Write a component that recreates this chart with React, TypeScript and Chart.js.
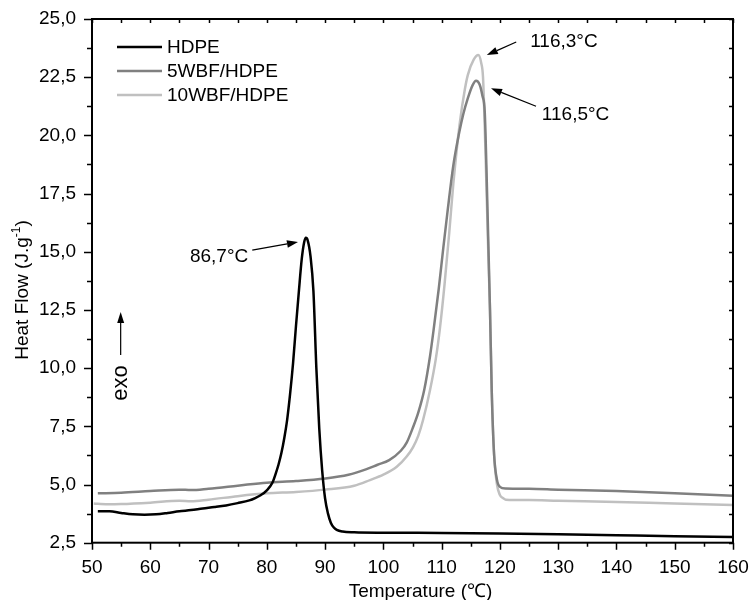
import React, { useEffect, useRef } from 'react';
import { Chart, registerables } from 'chart.js';

Chart.register(...registerables);

// ---------- data ----------
const hdpeT = [51, 53, 55, 57, 59, 61, 63, 65, 67, 69, 71, 73, 75, 77, 78, 79, 80, 81, 81.5, 82, 82.5, 83, 83.5, 84, 84.5, 85, 85.5, 86, 86.4, 86.7, 87, 87.5, 88, 88.5, 89, 89.5, 90, 90.5, 91, 91.5, 92, 93, 95, 100, 110, 120, 130, 140, 150, 160];
const hdpeV = [3.85, 3.85, 3.78, 3.72, 3.70, 3.72, 3.78, 3.85, 3.90, 3.97, 4.03, 4.10, 4.20, 4.32, 4.42, 4.55, 4.75, 5.10, 5.45, 5.85, 6.35, 7.0, 7.8, 8.9, 10.2, 11.8, 13.3, 14.7, 15.4, 15.6, 15.5, 14.8, 13.3, 10.0, 7.4, 5.6, 4.4, 3.75, 3.35, 3.15, 3.05, 2.98, 2.95, 2.93, 2.92, 2.9, 2.86, 2.82, 2.78, 2.75];

const wbf5T = [51, 55, 60, 65, 67, 70, 75, 80, 85, 90, 94, 97, 99, 101, 103, 104, 105, 106, 107, 108, 108.6, 109.5, 110.3, 111, 112, 113, 113.7, 114.5, 115.3, 115.9, 116.5, 117, 117.4, 117.7, 118, 118.3, 118.6, 119, 119.5, 120, 121, 125, 130, 140, 150, 160];
const wbf5V = [4.62, 4.65, 4.72, 4.78, 4.76, 4.82, 4.95, 5.08, 5.15, 5.26, 5.42, 5.65, 5.85, 6.05, 6.45, 6.8, 7.4, 8.1, 9.05, 10.5, 11.6, 13.4, 15.2, 16.7, 18.7, 20.1, 20.9, 21.6, 22.15, 22.35, 22.2, 21.7, 21.0, 18.5, 15.5, 12.5, 9.0, 6.3, 5.2, 4.9, 4.83, 4.82, 4.78, 4.72, 4.62, 4.52];

const wbf10T = [50.3, 51, 53, 55, 60, 65, 67, 70, 75, 80, 85, 90, 95, 97.7, 100, 102.3, 104, 105.1, 106, 106.8, 108, 109, 109.7, 110.5, 111.3, 112, 113.1, 114, 114.5, 115.5, 116.3, 116.8, 117.1, 117.5, 118, 118.3, 118.6, 119, 119.5, 120, 120.5, 121, 125, 130, 140, 150, 160];
const wbf10V = [4.18, 4.17, 4.15, 4.16, 4.22, 4.3, 4.28, 4.35, 4.5, 4.62, 4.68, 4.78, 4.95, 5.19, 5.42, 5.76, 6.2, 6.61, 7.1, 7.76, 9.05, 10.4, 11.7, 13.6, 15.8, 17.9, 20.5, 22.0, 22.6, 23.25, 23.45, 23.1, 22.5, 19.5, 15.0, 12.5, 9.0, 6.3, 5.0, 4.55, 4.42, 4.35, 4.33, 4.3, 4.25, 4.18, 4.12];

const seriesLabels = ['HDPE', '5WBF/HDPE', '10WBF/HDPE'];
const seriesColors = ['#000000', '#808080', '#c0c0c0'];

const xTitle = 'Temperature (\u2103)';
const yTitleMain = 'Heat Flow (J.g';
const yTitleSup = '-1';
const yTitleEnd = ')';

// annotations in data units
const annText = ['86,7\u00B0C', '116,3\u00B0C', '116,5\u00B0C'];
const annTextX = [66.8, 125.2, 127.2];
const annTextY = [14.56, 23.79, 20.66];
const annTailX = [77.5, 122.8, 126.2];
const annTailY = [15.07, 24.01, 21.25];
const annTipX = [85.35, 117.75, 118.47];
const annTipY = [15.42, 23.45, 22.02];

const exoLabel = 'exo';
const exoArrowX = 54.92;
const exoArrowY = [10.56, 12.41];
const exoTextX = 55.95;
const exoTextY = 9.36;

const FONT = '"Liberation Sans", Arial, Helvetica, sans-serif';
const FS = 19;

const toXY = (t: number[], v: number[]) => t.map((x, i) => ({ x, y: v[i] }));

function arrow(ctx: CanvasRenderingContext2D, x1: number, y1: number, x2: number, y2: number, headLen = 11, headW = 3.8) {
  const ang = Math.atan2(y2 - y1, x2 - x1);
  const bx = x2 - headLen * Math.cos(ang);
  const by = y2 - headLen * Math.sin(ang);
  ctx.beginPath();
  ctx.moveTo(x1, y1);
  ctx.lineTo(bx, by);
  ctx.lineWidth = 1.2;
  ctx.stroke();
  ctx.beginPath();
  ctx.moveTo(x2, y2);
  ctx.lineTo(bx + headW * Math.sin(ang), by - headW * Math.cos(ang));
  ctx.lineTo(bx - headW * Math.sin(ang), by + headW * Math.cos(ang));
  ctx.closePath();
  ctx.fill();
}

const overlay = {
  id: 'overlay',
  afterDraw(chart: any) {
    const { ctx, chartArea: a, scales } = chart;
    const xs = scales.x;
    const ys = scales.y;
    ctx.save();
    ctx.strokeStyle = '#000';
    ctx.fillStyle = '#000';

    // ticks
    ctx.lineWidth = 1.5;
    ctx.beginPath();
    for (let v = 50; v <= 160.001; v += 5) {
      const px = Math.round(xs.getPixelForValue(v)) + 0.5;
      const major = Math.abs(v % 10) < 0.001;
      ctx.moveTo(px, a.bottom);
      ctx.lineTo(px, a.bottom + (major ? 7 : 4));
      ctx.moveTo(px, a.top);
      ctx.lineTo(px, a.top + 4);
    }
    for (let i = 0; i <= 18; i++) {
      const v = 2.5 + i * 1.25;
      const py = Math.round(ys.getPixelForValue(v)) + 0.5;
      const major = i % 2 === 0;
      ctx.moveTo(a.left, py);
      ctx.lineTo(a.left - (major ? 8 : 5), py);
      ctx.moveTo(a.right, py);
      ctx.lineTo(a.right - 4, py);
    }
    ctx.stroke();

    // frame
    ctx.lineWidth = 2;
    ctx.strokeRect(a.left, a.top, a.right - a.left, a.bottom - a.top);

    // legend
    ctx.font = `${FS}px ${FONT}`;
    ctx.textBaseline = 'middle';
    ctx.textAlign = 'left';
    chart.data.datasets.forEach((ds: any, i: number) => {
      const y = 47 + i * 24;
      ctx.strokeStyle = ds.borderColor;
      ctx.lineWidth = 2.5;
      ctx.beginPath();
      ctx.moveTo(117, y);
      ctx.lineTo(162, y);
      ctx.stroke();
      ctx.fillStyle = '#000';
      ctx.fillText(ds.label, 167, y + 1);
    });

    // annotations
    ctx.strokeStyle = '#000';
    ctx.fillStyle = '#000';
    ctx.textBaseline = 'alphabetic';
    annText.forEach((t, i) => {
      ctx.font = `${FS}px ${FONT}`;
      ctx.fillText(t, xs.getPixelForValue(annTextX[i]), ys.getPixelForValue(annTextY[i]));
      arrow(ctx, xs.getPixelForValue(annTailX[i]), ys.getPixelForValue(annTailY[i]), xs.getPixelForValue(annTipX[i]), ys.getPixelForValue(annTipY[i]));
    });

    // exo
    const ex = xs.getPixelForValue(exoArrowX);
    arrow(ctx, ex, ys.getPixelForValue(exoArrowY[0]), ex, ys.getPixelForValue(exoArrowY[1]), 11, 3.5);
    ctx.save();
    ctx.translate(xs.getPixelForValue(exoTextX), ys.getPixelForValue(exoTextY));
    ctx.rotate(-Math.PI / 2);
    ctx.font = `22px ${FONT}`;
    ctx.textAlign = 'center';
    ctx.textBaseline = 'alphabetic';
    ctx.fillText(exoLabel, 0, 0);
    ctx.restore();

    // x title
    ctx.font = `${FS}px ${FONT}`;
    ctx.textAlign = 'center';
    ctx.textBaseline = 'alphabetic';
    ctx.fillText(xTitle, (a.left + a.right) / 2 + 8, 597);

    // y title
    ctx.save();
    ctx.translate(28, 290);
    ctx.rotate(-Math.PI / 2);
    ctx.textAlign = 'left';
    ctx.font = `${FS}px ${FONT}`;
    const w1 = ctx.measureText(yTitleMain).width;
    ctx.font = `12px ${FONT}`;
    const w2 = ctx.measureText(yTitleSup).width;
    ctx.font = `${FS}px ${FONT}`;
    const w3 = ctx.measureText(yTitleEnd).width;
    let x0 = -(w1 + w2 + w3) / 2;
    ctx.fillText(yTitleMain, x0, 0);
    x0 += w1;
    ctx.font = `12px ${FONT}`;
    ctx.fillText(yTitleSup, x0, -8);
    x0 += w2;
    ctx.font = `${FS}px ${FONT}`;
    ctx.fillText(yTitleEnd, x0, 0);
    ctx.restore();

    ctx.restore();
  },
};

export default function App() {
  const ref = useRef<HTMLCanvasElement>(null);
  useEffect(() => {
    if (!ref.current) return;
    const series = [toXY(hdpeT, hdpeV), toXY(wbf5T, wbf5V), toXY(wbf10T, wbf10V)];
    const chart = new Chart(ref.current, {
      type: 'line',
      data: {
        datasets: series.map((d, i) => ({
          label: seriesLabels[i],
          data: d,
          borderColor: seriesColors[i],
          backgroundColor: seriesColors[i],
          borderWidth: 2.5,
          pointRadius: 0,
          fill: false,
          cubicInterpolationMode: 'monotone' as const,
        })),
      },
      options: {
        responsive: false,
        animation: false,
        devicePixelRatio: 1,
        layout: { autoPadding: false, padding: { top: 19, right: 19, left: 0, bottom: 0 } },
        plugins: { legend: { display: false }, tooltip: { enabled: false } },
        scales: {
          x: {
            type: 'linear',
            min: 50,
            max: 160,
            grid: { display: false, drawTicks: false },
            border: { display: false },
            ticks: {
              stepSize: 10,
              padding: 14,
              color: '#000',
              font: { family: FONT, size: FS },
              maxRotation: 0,
              autoSkip: false,
            },
            afterFit: (s: any) => {
              s.height = 57.3;
              s.paddingLeft = 0;
              s.paddingRight = 0;
            },
          },
          y: {
            type: 'linear',
            min: 2.5,
            max: 25,
            grid: { display: false, drawTicks: false },
            border: { display: false },
            ticks: {
              stepSize: 2.5,
              padding: 16,
              color: '#000',
              font: { family: FONT, size: FS },
              autoSkip: false,
              callback: (v: any) => Number(v).toFixed(1).replace('.', ','),
            },
            afterFit: (s: any) => {
              s.width = 92;
              s.paddingTop = 0;
              s.paddingBottom = 0;
            },
          },
        },
      },
      plugins: [overlay],
    });
    return () => chart.destroy();
  }, []);
  return (
    <div style={{ position: 'absolute', left: 0, top: 0, width: 752, height: 600, background: '#fff' }}>
      <canvas ref={ref} width={752} height={600} style={{ display: 'block' }} />
    </div>
  );
}
